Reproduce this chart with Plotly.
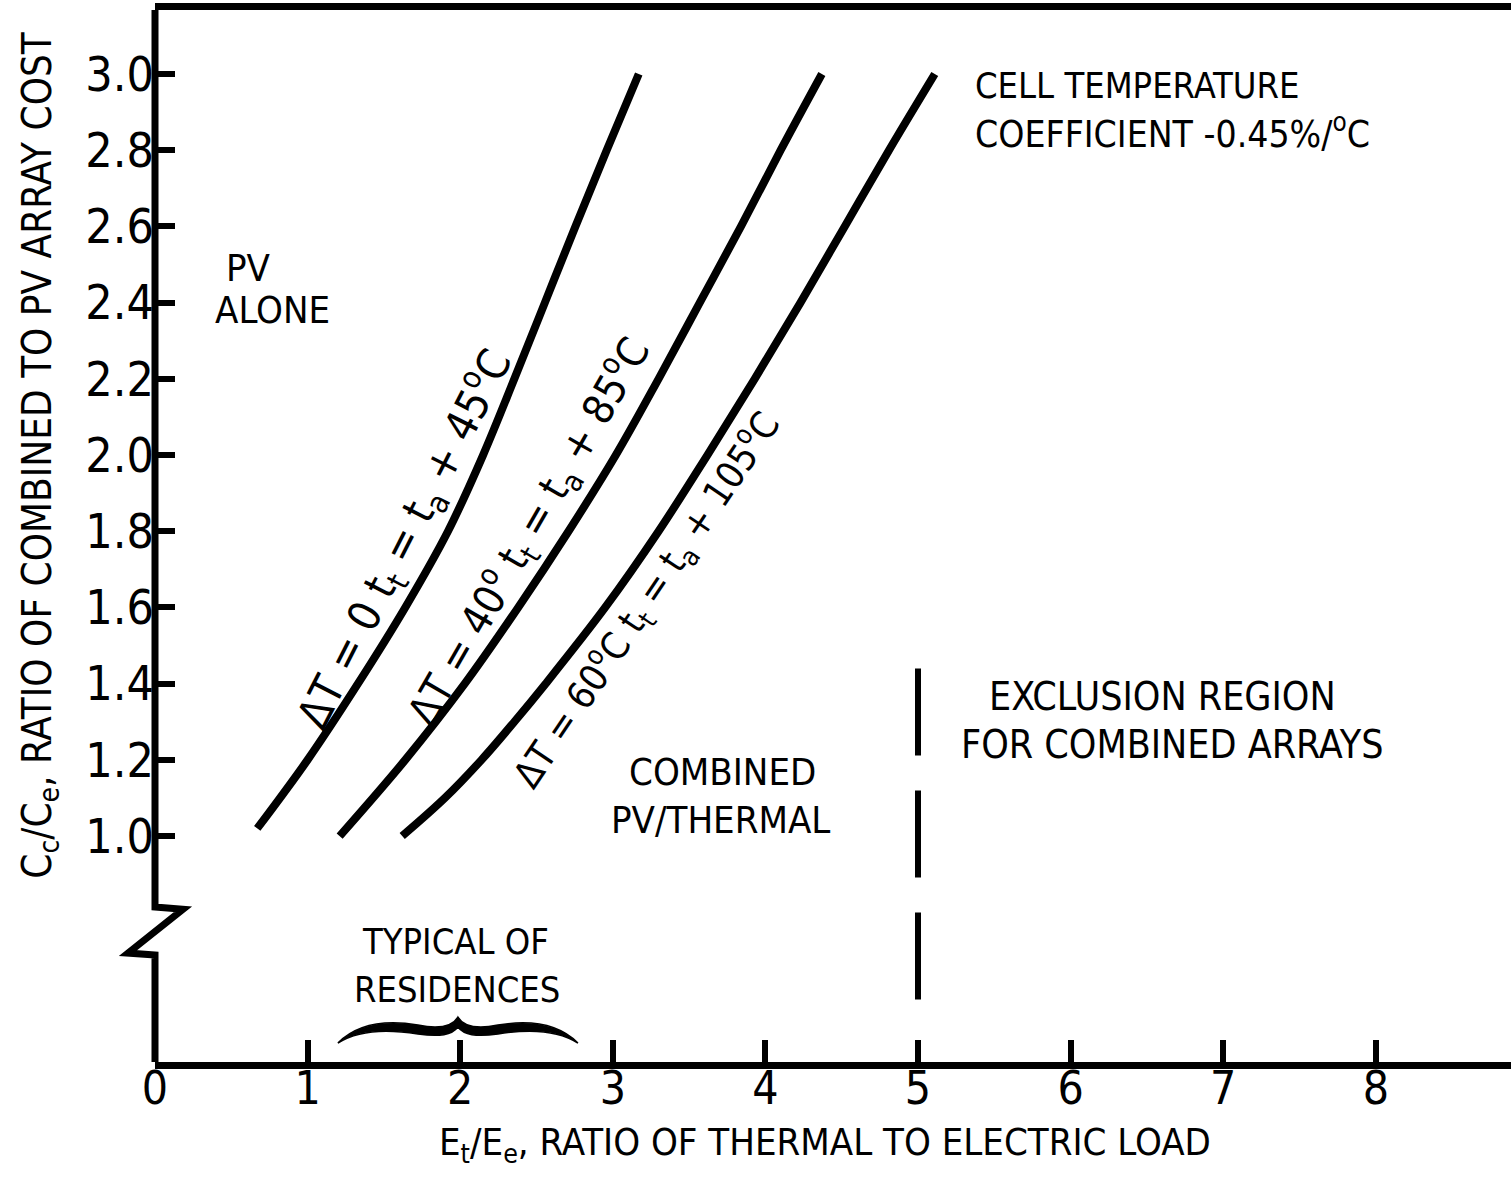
import plotly.graph_objects as go

# ---------------- data ----------------
dt0_x = [0.67, 1.00, 1.33, 1.64, 1.92, 2.15, 2.355, 2.555, 2.755, 2.96, 3.17]
dt0_y = [1.02, 1.2, 1.4, 1.6, 1.8, 2.0, 2.2, 2.4, 2.6, 2.8, 3.0]

dt40_x = [1.21, 1.64, 2.03, 2.38, 2.71, 3.02, 3.30, 3.57, 3.84, 4.10, 4.37]
dt40_y = [1.0, 1.2, 1.4, 1.6, 1.8, 2.0, 2.2, 2.4, 2.6, 2.8, 3.0]

dt60_x = [1.62, 1.90, 2.14, 2.355, 2.56, 2.95, 3.30, 3.62, 3.93, 4.23, 4.52, 4.81, 5.11]
dt60_y = [1.0, 1.1, 1.2, 1.3, 1.4, 1.6, 1.8, 2.0, 2.2, 2.4, 2.6, 2.8, 3.0]

exclusion_x = [5.0, 5.0]
exclusion_y = [1.44, 0.57]

x_tick_vals = [0, 1, 2, 3, 4, 5, 6, 7, 8]
x_tick_text = ["0", "1", "2", "3", "4", "5", "6", "7", "8"]
y_tick_vals = [1.0, 1.2, 1.4, 1.6, 1.8, 2.0, 2.2, 2.4, 2.6, 2.8, 3.0]
y_tick_text = ["1.0", "1.2", "1.4", "1.6", "1.8", "2.0", "2.2", "2.4", "2.6", "2.8", "3.0"]

X_RANGE = [0, 8.886]
Y_RANGE = [0.407, 3.168]
Y_BREAK_TOP = 0.814
Y_BREAK_BOTTOM = 0.688

FONT = "Liberation Sans Narrow, DejaVu Sans Condensed, Roboto Condensed, Arial Narrow, sans-serif"
INK = "black"

fig = go.Figure()

for xs, ys in [(dt0_x, dt0_y), (dt40_x, dt40_y), (dt60_x, dt60_y)]:
    fig.add_trace(go.Scatter(x=xs, y=ys, mode="lines",
                             line=dict(color=INK, width=8, shape="spline", smoothing=1.0),
                             hoverinfo="skip", showlegend=False))

fig.add_trace(go.Scatter(x=exclusion_x, y=exclusion_y, mode="lines",
                         line=dict(color=INK, width=6, dash="87px,35px"),
                         hoverinfo="skip", showlegend=False))

# left axis with a break (zigzag), x in pixel offsets from the plot's left edge
left_axis_path = (f"M0,{Y_RANGE[1]+0.01} L0,{Y_BREAK_TOP} L28,{Y_BREAK_TOP-0.006} "
                  f"L-27,{Y_BREAK_BOTTOM+0.005} L0,{Y_BREAK_BOTTOM} L0,{Y_RANGE[0]-0.01}")
fig.add_shape(type="path", xref="paper", yref="y", xsizemode="pixel", xanchor=0,
              path=left_axis_path, line=dict(color=INK, width=7), layer="above")

# curly brace over "typical of residences"
brace_path = ("M-120,-26 C-100,-6 -70,-3 -40,-8 C-20,-12 -6,-10 0,0 "
              "C6,-10 20,-12 40,-8 C70,-3 100,-6 120,-26 "
              "C98,-12 70,-12 40,-17 C18,-20 6,-18 0,-10 "
              "C-6,-18 -18,-20 -40,-17 C-70,-12 -98,-12 -120,-26 Z")
fig.add_shape(type="path", xref="x", yref="y", xsizemode="pixel", ysizemode="pixel",
              xanchor=1.985, yanchor=0.525, path=brace_path,
              fillcolor=INK, line=dict(color=INK, width=1.5))

def note(text, x, y, size=40, angle=0, xanchor="center", yanchor="middle",
         xref="x", yref="y"):
    fig.add_annotation(text=text, x=x, y=y, xref=xref, yref=yref,
                       showarrow=False, textangle=angle, xanchor=xanchor, yanchor=yanchor,
                       font=dict(family=FONT, size=size, color=INK))

note("PV", 0.61, 2.49, size=38)
note("ALONE", 0.77, 2.38, size=38)
note("CELL TEMPERATURE", 5.36, 2.97, size=36, xanchor="left")
note("COEFFICIENT -0.45%/<sup>o</sup>C", 5.36, 2.85, size=37, xanchor="left")
note("EXCLUSION REGION", 6.605, 1.367, size=39)
note("FOR COMBINED ARRAYS", 6.665, 1.241, size=39)
note("COMBINED", 3.716, 1.168, size=38)
note("PV/THERMAL", 3.703, 1.042, size=38)
note("TYPICAL OF", 1.972, 0.722, size=36)
note("RESIDENCES", 1.979, 0.598, size=36)

note("ΔT = 0 t<sub>t</sub> = t<sub>a</sub> + 45<sup>o</sup>C", 1.63, 1.78, size=44, angle=-63)
note("ΔT = 40<sup>o</sup> t<sub>t</sub> = t<sub>a</sub> + 85<sup>o</sup>C", 2.45, 1.80, size=42, angle=-60)
note("ΔT = 60<sup>o</sup>C t<sub>t</sub> = t<sub>a</sub> + 105<sup>o</sup>C", 3.22, 1.62, size=38, angle=-56)

# axis titles
note("E<sub>t</sub>/E<sub>e</sub>, RATIO OF THERMAL TO ELECTRIC LOAD", 0.494, -0.078,
     size=38, xref="paper", yref="paper")
note("C<sub>c</sub>/C<sub>e</sub>, RATIO OF COMBINED TO PV ARRAY COST", -0.085, 0.577,
     size=40, angle=-90, xref="paper", yref="paper")

fig.update_layout(
    width=1511, height=1184,
    margin=dict(l=155, r=0, t=10, b=122),
    paper_bgcolor="white", plot_bgcolor="white",
    showlegend=False,
    xaxis=dict(range=X_RANGE, showgrid=False, zeroline=False,
               showline=True, mirror=True, linecolor=INK, linewidth=7,
               ticks="inside", ticklen=22, tickwidth=6, tickcolor=INK,
               tickvals=x_tick_vals, ticktext=x_tick_text, ticklabelstandoff=-20,
               tickfont=dict(family=FONT, size=46, color=INK)),
    yaxis=dict(range=Y_RANGE, showgrid=False, zeroline=False, showline=False,
               ticks="inside", ticklen=20, tickwidth=6, tickcolor=INK,
               tickvals=y_tick_vals, ticktext=y_tick_text,
               tickfont=dict(family=FONT, size=48, color=INK)),
)

fig.write_html("out.html")
